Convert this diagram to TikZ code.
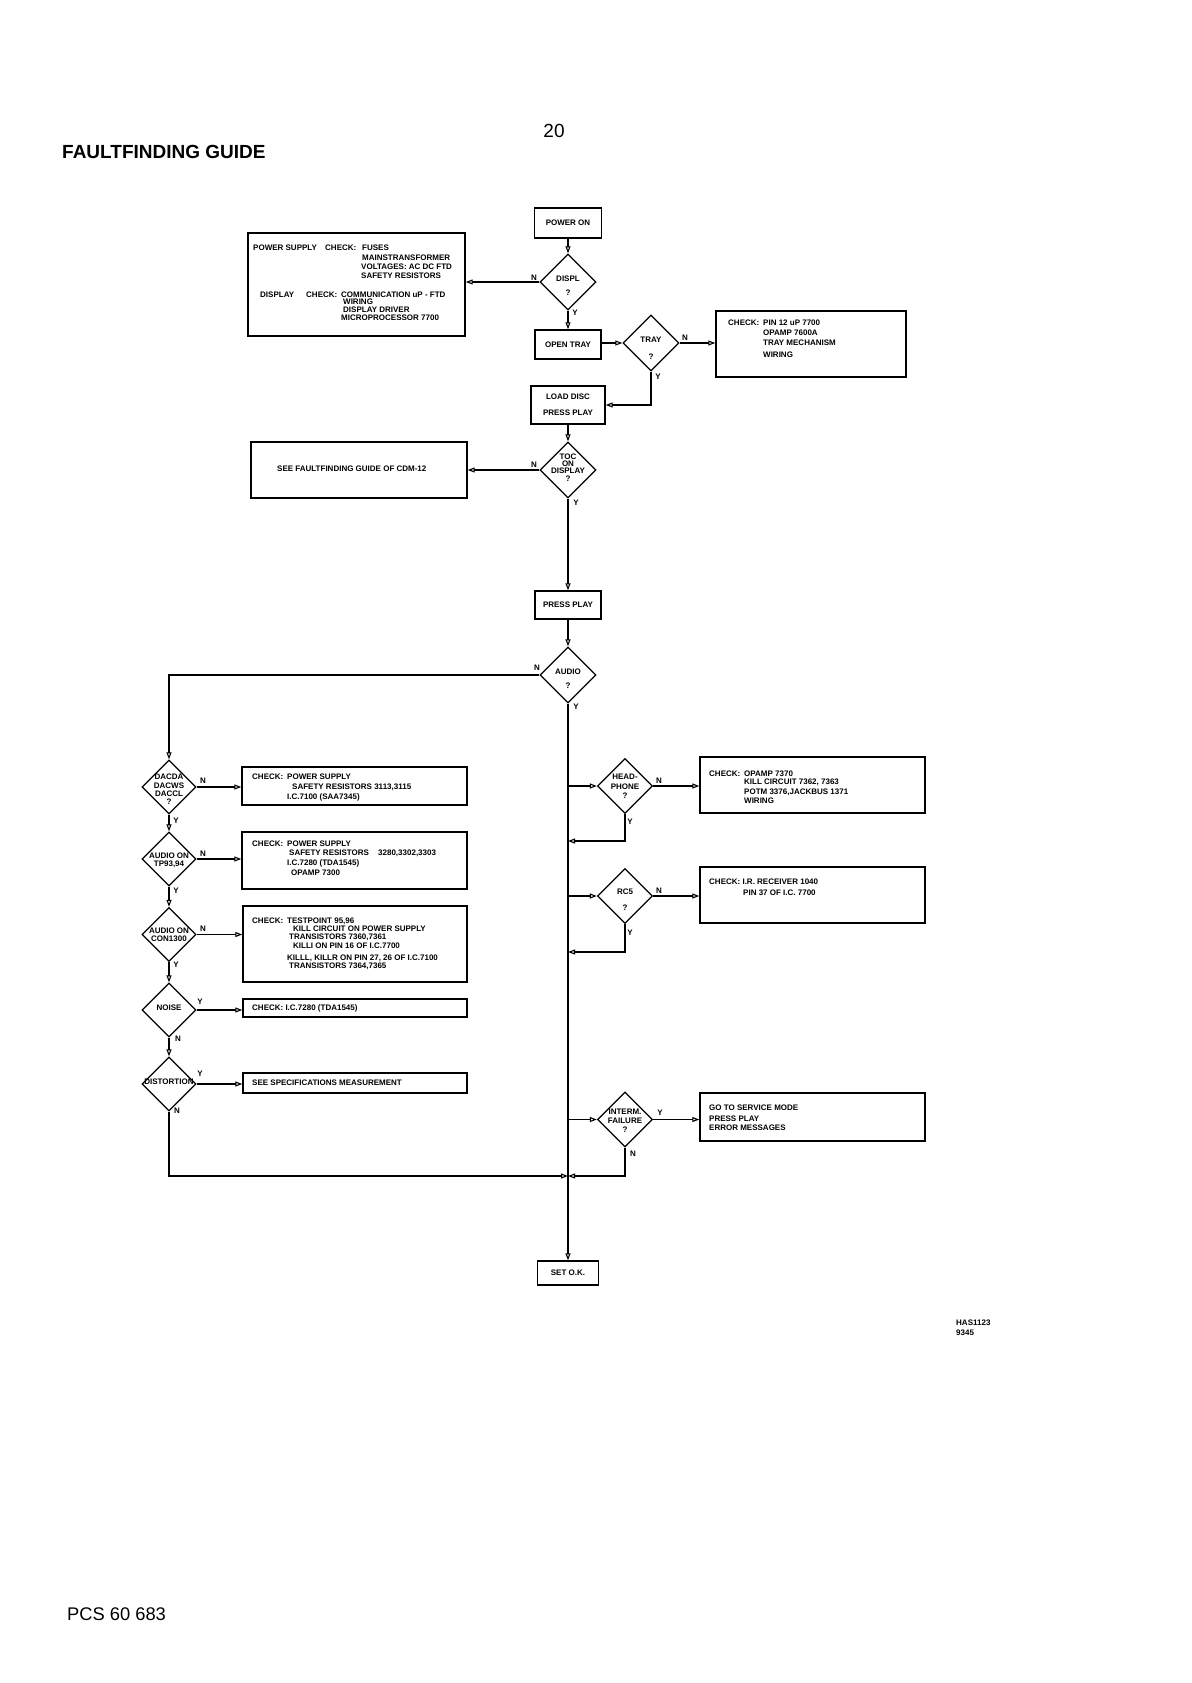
\documentclass[tikz,border=0pt]{standalone}
\usepackage{fontspec}
\setmainfont{Liberation Sans}
\usetikzlibrary{shapes.geometric,arrows.meta}
\newcounter{tn}
\newcounter{ln}
\newcommand\bx{\fontsize{8}{9}\selectfont\bfseries}
\newcommand\dft[1]{\fontsize{8}{#1}\selectfont\bfseries}
\newcommand\tx[3]{\stepcounter{tn}\node[txt] (t\arabic{tn}) at (#1,#2+2.8) {#3};}
\newcommand\lb[3]{\stepcounter{ln}\node[lbl] (l\arabic{ln}) at (#1,#2) {#3};}
\newcommand\boxat[6]{\node[bxs,minimum width={#4-#2},minimum height={#5-#3}] (#1) at ({(#2+#4)/2},{(#3+#5)/2}) {#6};}
\begin{document}
\begin{tikzpicture}[x=1pt,y=-1pt,
 txt/.style={inner sep=0,anchor=base west,font=\bx},
 bxs/.style={draw,line width=1.4pt,inner sep=0,font=\bx},
 dia/.style={draw,diamond,line width=1.3pt,inner sep=0,minimum width=#1,minimum height=#1},
 dtx/.style={inner sep=0,align=center,font=\dft{#1}},
 arr/.style={line width=1.1pt,-{Triangle[open,length=7pt,width=5pt]}},
 lbl/.style={inner sep=0,font=\bx}]
\fill[white] (0,0) rectangle (1191,1683);
\useasboundingbox (0,0) rectangle (1191,1683);

% page texts
\node[inner sep=0,anchor=base west,font=\fontsize{19}{20}\selectfont\bfseries] (title) at (62,158.8) {FAULTFINDING GUIDE};
\node[inner sep=0,anchor=base,font=\fontsize{19}{20}\selectfont] (pageno) at (554,137) {20};
\node[inner sep=0,anchor=base west,font=\fontsize{18.3}{20}\selectfont] (pcs) at (67,1620) {PCS 60 683};
\tx{956}{1323}{HAS1123}
\tx{956}{1333}{9345}

% boxes
\boxat{pwron}{534.5}{208}{601.5}{238}{POWER ON}
\boxat{bps}{248}{233}{465}{336}{}
\boxat{otray}{535}{330}{601}{359}{OPEN TRAY}
\boxat{btray}{716}{311}{906}{377}{}
\node[bxs,minimum width=74,minimum height=38,align=center,font=\dft{16}] (ldisc) at (568,405) {LOAD DISC\\PRESS PLAY};
\boxat{bcdm}{251}{442}{467}{498}{}
\boxat{pplay}{535}{591}{601}{619}{PRESS PLAY}
\boxat{b1}{242}{767}{467}{805}{}
\boxat{b2}{242}{832}{467}{889}{}
\boxat{b3}{243}{906}{467}{982}{}
\boxat{b4}{243}{999}{467}{1017}{}
\boxat{b5}{243}{1073}{467}{1093}{}
\boxat{bh}{700}{757}{925}{813}{}
\boxat{br}{700}{867}{925}{923}{}
\boxat{bi}{700}{1093}{925}{1141}{}
\boxat{setok}{537.5}{1261}{598.5}{1285}{SET O.K.}

% box texts
\tx{253}{248}{POWER SUPPLY}\tx{325}{248}{CHECK:}\tx{362}{248}{FUSES}
\tx{362}{258}{MAINSTRANSFORMER}
\tx{361}{267}{VOLTAGES: AC DC FTD}
\tx{361}{276}{SAFETY RESISTORS}
\tx{260}{295}{DISPLAY}\tx{306}{295}{CHECK:}\tx{341}{295}{COMMUNICATION uP - FTD}
\tx{343}{302}{WIRING}
\tx{343}{310}{DISPLAY DRIVER}
\tx{341}{318}{MICROPROCESSOR 7700}

\tx{728}{323}{CHECK:}\tx{763}{323}{PIN 12 uP 7700}
\tx{763}{333}{OPAMP 7600A}
\tx{763}{343}{TRAY MECHANISM}
\tx{763}{355}{WIRING}

\tx{277}{469}{SEE FAULTFINDING GUIDE OF CDM-12}

\tx{252}{777}{CHECK:}\tx{287}{777}{POWER SUPPLY}
\tx{292}{787}{SAFETY RESISTORS 3113,3115}
\tx{287}{797}{I.C.7100 (SAA7345)}

\tx{252}{844}{CHECK:}\tx{287}{844}{POWER SUPPLY}
\tx{289}{853}{SAFETY RESISTORS}\tx{378}{853}{3280,3302,3303}
\tx{287}{863}{I.C.7280 (TDA1545)}
\tx{291}{873}{OPAMP 7300}

\tx{252}{921}{CHECK:}\tx{287}{921}{TESTPOINT 95,96}
\tx{293}{929}{KILL CIRCUIT ON POWER SUPPLY}
\tx{289}{937}{TRANSISTORS 7360,7361}
\tx{293}{946}{KILLI ON PIN 16 OF I.C.7700}
\tx{287}{958}{KILLL, KILLR ON PIN 27, 26 OF I.C.7100}
\tx{289}{966}{TRANSISTORS 7364,7365}

\tx{252}{1008}{CHECK: I.C.7280 (TDA1545)}
\tx{252}{1083}{SEE SPECIFICATIONS MEASUREMENT}

\tx{709}{774}{CHECK:}\tx{744}{774}{OPAMP 7370}
\tx{744}{782}{KILL CIRCUIT 7362, 7363}
\tx{744}{792}{POTM 3376,JACKBUS 1371}
\tx{744}{801}{WIRING}

\tx{709}{882}{CHECK: I.R. RECEIVER 1040}
\tx{743}{893}{PIN 37 OF I.C. 7700}

\tx{709}{1108}{GO TO SERVICE MODE}
\tx{709}{1119}{PRESS PLAY}
\tx{709}{1128}{ERROR MESSAGES}

% diamonds
\node[dia=56] (displ) at (568,282) {};
\node[dtx=14] (displt) at (568,286) {DISPL\\?};
\node[dia=56] (tray) at (651,343) {};
\node[dtx=17] (trayt) at (651,348.5) {TRAY\\?};
\node[dia=56] (toc) at (568,470) {};
\node[dtx=7.3] (toct) at (568,467.5) {TOC\\ON\\DISPLAY\\?};
\node[dia=56] (audio) at (568,675) {};
\node[dtx=14] (audiot) at (568,679) {AUDIO\\?};

\node[dia=54] (dac) at (169,787) {};
\node[dtx=8.3] (dact) at (169,789.5) {DACDA\\DACWS\\DACCL\\?};
\node[dia=54] (tp) at (169,859) {};
\node[dtx=8] (tpt) at (169,860) {AUDIO ON\\TP93,94};
\node[dia=54] (con) at (169,934.5) {};
\node[dtx=8] (cont) at (169,935) {AUDIO ON\\CON1300};
\node[dia=54] (noise) at (169,1010) {};
\node[dtx=9] (noiset) at (169,1008) {NOISE};
\node[dia=54] (dist) at (169,1084) {};
\node[dtx=9] (distt) at (169,1082) {DISTORTION};

\node[dia=55] (hp) at (625,786) {};
\node[dtx=9.5] (hpt) at (625,786.5) {HEAD-\\PHONE\\?};
\node[dia=55] (rc) at (625,896) {};
\node[dtx=16] (rct) at (625,900) {RC5\\?};
\node[dia=55] (int) at (625,1119.5) {};
\node[dtx=9] (intt) at (625,1121) {INTERM.\\FAILURE\\?};

% coordinates on the main line
\coordinate (m1) at (568,786);
\coordinate (r1) at (568,841);
\coordinate (m2) at (568,896);
\coordinate (r2) at (568,952);
\coordinate (m3) at (568,1119.5);
\coordinate (j1) at (568,1176);

% connectors
\draw[arr] (pwron.south) -- (displ.north);
\draw[arr] (displ.west) -- (displ.west -| bps.east);
\draw[arr] (displ.south) -- (otray.north);
\draw[arr] (tray.west -| otray.east) -- (tray.west);
\draw[arr] (tray.east) -- (tray.east -| btray.west);
\draw[arr] (tray.south) |- (ldisc.east);
\draw[arr] (ldisc.south) -- (toc.north);
\draw[arr] (toc.west) -- (toc.west -| bcdm.east);
\draw[arr] (toc.south) -- (pplay.north);
\draw[arr] (pplay.south) -- (audio.north);
\draw[arr] (audio.west) -| (dac.north);
\draw[arr] (audio.south) -- (setok.north);

\draw[arr] (dac.east) -- (dac.east -| b1.west);
\draw[arr] (dac.south) -- (tp.north);
\draw[arr] (tp.east) -- (tp.east -| b2.west);
\draw[arr] (tp.south) -- (con.north);
\draw[arr] (con.east) -- (con.east -| b3.west);
\draw[arr] (con.south) -- (noise.north);
\draw[arr] (noise.east) -- (noise.east -| b4.west);
\draw[arr] (noise.south) -- (dist.north);
\draw[arr] (dist.east) -- (dist.east -| b5.west);
\draw[arr] (dist.south) |- (j1);

\draw[arr] (m1) -- (hp.west);
\draw[arr] (hp.east) -- (hp.east -| bh.west);
\draw[arr] (hp.south) |- (r1);
\draw[arr] (m2) -- (rc.west);
\draw[arr] (rc.east) -- (rc.east -| br.west);
\draw[arr] (rc.south) |- (r2);
\draw[arr] (m3) -- (int.west);
\draw[arr] (int.east) -- (int.east -| bi.west);
\draw[arr] (int.south) |- (j1);

% branch labels
\lb{534}{278}{N}\lb{575}{313}{Y}
\lb{685}{338}{N}\lb{658}{377}{Y}
\lb{534}{465}{N}\lb{576}{503}{Y}
\lb{537}{668}{N}\lb{576}{707}{Y}
\lb{203}{781}{N}\lb{176}{821}{Y}
\lb{203}{854}{N}\lb{176}{891}{Y}
\lb{203}{929}{N}\lb{176}{965}{Y}
\lb{200}{1002}{Y}\lb{178}{1039}{N}
\lb{200}{1074}{Y}\lb{177}{1111}{N}
\lb{659}{781}{N}\lb{630}{822}{Y}
\lb{659}{891}{N}\lb{630}{933}{Y}
\lb{660}{1113}{Y}\lb{633}{1154}{N}
\end{tikzpicture}
\end{document}
